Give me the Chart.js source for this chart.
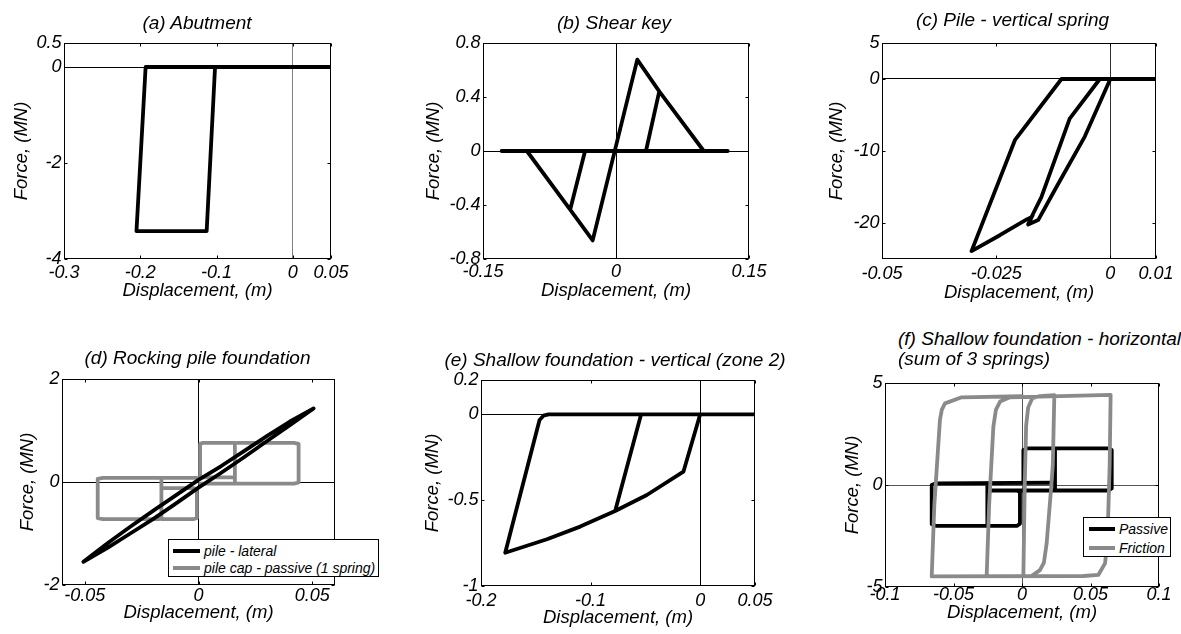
<!DOCTYPE html>
<html><head><meta charset="utf-8">
<script src="https://cdn.jsdelivr.net/npm/chart.js@4.4.1/dist/chart.umd.min.js"></script>
<style>
html,body{margin:0;padding:0;background:#fff;width:1181px;height:634px;overflow:hidden;font-family:"Liberation Sans",Arial,sans-serif;}
.c{position:absolute;}
.t{position:absolute;font-style:italic;font-size:19px;line-height:22px;white-space:nowrap;color:#000;}
.lg{position:absolute;background:#fff;border:1px solid #000;box-sizing:border-box;font-style:italic;font-size:14px;color:#000;}
.row{position:absolute;left:0;right:0;height:18px;line-height:18px;white-space:nowrap;}
.sw{position:absolute;height:4px;top:7px;}
.lt{position:absolute;top:0;}
</style></head><body>
<script>
const FONT = '"Liberation Sans", Arial, sans-serif';
const BLACK = '#000000', GRAY = '#8a8a8a';

// ---------- (a) Abutment ----------
const abutX = [0.05, -0.193, -0.205, -0.113, -0.102, 0.05];
const abutY = [0, 0, -3.42, -3.42, 0, 0];
const aXTicks = [-0.3, -0.2, -0.1, 0, 0.05];
const aYTicks = [-4, -2, 0, 0.5];

// ---------- (b) Shear key ----------
const keyX = [-0.129, -0.1005, -0.0517, -0.0349, -0.0517, -0.0263, 0.024, 0.0488, 0.0338, 0.0488, 0.099, 0.126, -0.129];
const keyY = [0, 0, -0.435, 0, -0.435, -0.662, 0.677, 0.442, 0, 0.442, 0, 0, 0];
const bXTicks = [-0.15, 0, 0.15];
const bYTicks = [-0.8, -0.4, 0, 0.4, 0.8];

// ---------- (c) Pile - vertical spring ----------
const pileVX = [0.01, -0.0107, -0.0209, -0.0304, -0.0242, -0.0213, -0.0183, -0.0173, -0.0151, -0.0089, -0.0023, 0, -0.0056, -0.0118, -0.0158, -0.0180, -0.0170];
const pileVY = [0, 0, -8.5, -23.9, -21.7, -20.6, -19.5, -19.2, -16.4, -5.5, 0, 0, -8.0, -15.0, -19.6, -20.2, -18.9];
const cXTicks = [-0.05, -0.025, 0, 0.01];
const cYTicks = [-20, -10, 0, 5];

// ---------- (d) Rocking pile foundation ----------
const pileLatX = [-0.0506, -0.04, -0.03, -0.02, -0.01, 0, 0.01, 0.02, 0.03, 0.04, 0.0506, 0.04, 0.03, 0.02, 0.01, 0, -0.01, -0.02, -0.03, -0.04, -0.0506];
const pileLatY = [-1.55, -1.28, -1.00, -0.72, -0.42, -0.11, 0.18, 0.48, 0.79, 1.10, 1.43, 1.17, 0.89, 0.60, 0.31, 0.04, -0.26, -0.56, -0.87, -1.19, -1.55];
const pileCapX = [0.0007, 0.042, 0.044, 0.044, 0.042, 0.017, 0.016, 0.016, null,
                  0.016, 0.002, 0.0007, 0.0007, 0.002, 0.015, 0.016, null,
                  -0.0007, -0.042, -0.0443, -0.0443, -0.042, -0.0173, -0.0163, -0.0163, null,
                  -0.0163, -0.002, -0.0007, -0.0007, -0.002, -0.0153, -0.0163];
const pileCapY = [-0.03, -0.03, -0.01, 0.74, 0.76, 0.76, 0.74, -0.03, null,
                  0.76, 0.76, 0.74, 0.11, 0.09, 0.09, 0.11, null,
                  0.08, 0.08, 0.06, -0.70, -0.72, -0.72, -0.70, 0.08, null,
                  -0.72, -0.72, -0.70, -0.14, -0.12, -0.12, -0.10];
const dXTicks = [-0.05, 0, 0.05];
const dYTicks = [-2, 0, 2];
const dLegend = ['pile - lateral', 'pile cap - passive (1 spring)'];

// ---------- (e) Shallow foundation - vertical ----------
const shVX = [0.05, 0, -0.0153, -0.0487, -0.0776, -0.0539, -0.0776, -0.1095, -0.1398, -0.1779, -0.1466, -0.1430, -0.1384, 0.05];
const shVY = [0, 0, -0.334, -0.47, -0.563, 0, -0.563, -0.654, -0.728, -0.806, -0.033, -0.008, 0, 0];
const eXTicks = [-0.2, -0.1, 0, 0.05];
const eYTicks = [-1, -0.5, 0, 0.2];

// ---------- (f) Shallow foundation - horizontal ----------
const passiveX = [0.0241, 0.0241, 0.0215, -0.063, -0.0659, -0.0659, -0.063, -0.0035, -0.0015, -0.0015, -0.0035, 0.063, 0.0655, 0.0655, 0.063, 0.004, 0.001, 0.001, null,
                  0.0241, 0.0241, null,
                  -0.0253, -0.0253, -0.0253, -0.0225, -0.0035];
const passiveY = [1.80, 0.15, 0.11, 0.08, 0.0, -1.92, -2.0, -2.0, -1.9, -0.35, -0.27, -0.27, -0.17, 1.72, 1.80, 1.80, 1.72, 0.12, null,
                  0.15, -0.27, null,
                  0.08, -2.0, -0.35, -0.27, -0.27];
const frictionX = [0.0010, 0.0020, 0.0030, 0.0045, 0.0075, 0.0130, 0.0236, 0.0225, 0.0212, 0.0180, 0.0160, 0.0131, 0.0071, -0.0258, -0.0240, -0.0209, -0.0190, -0.0160, -0.0088, 0.0647, 0.0640, 0.0623, 0.0606, 0.0557, 0.0450, -0.0659, -0.0640, -0.0599, -0.0585, -0.0562, -0.0440, 0.0];
const frictionY = [-4.45, 0, 2.9, 3.8, 4.25, 4.36, 4.40, 1.0, -0.2, -2.86, -3.8, -4.17, -4.45, -4.48, -1.0, 2.86, 3.7, 4.09, 4.30, 4.42, 1.0, -2.86, -3.84, -4.41, -4.46, -4.48, -1.0, 3.19, 3.7, 4.0, 4.30, 4.35];
const fXTicks = [-0.1, -0.05, 0, 0.05, 0.1];
const fYTicks = [-5, 0, 5];
const fLegend = ['Passive', 'Friction'];

const titles = [
  {text: '(a) Abutment', cx: 197, top: 11.5},
  {text: '(b) Shear key', cx: 614, top: 11.5},
  {text: '(c) Pile - vertical spring', cx: 1012.5, top: 9},
  {text: '(d) Rocking pile foundation', cx: 197.5, top: 347},
  {text: '(e) Shallow foundation - vertical (zone 2)', cx: 615, top: 348.6},
  {text: '(f) Shallow foundation - horizontal', left: 898, top: 327.8},
  {text: '(sum of 3 springs)', left: 898, top: 347.8}
];

const boxPlugin = {
  id: 'boxPlugin',
  afterDraw(chart) {
    const ctx = chart.ctx, a = chart.chartArea, xs = chart.scales.x, ys = chart.scales.y;
    ctx.save();
    ctx.strokeStyle = '#000'; ctx.lineWidth = 1;
    const L = Math.round(a.left) + 0.5, R = Math.round(a.right) - 0.5, T = Math.round(a.top) + 0.5, B = Math.round(a.bottom) - 0.5;
    ctx.strokeRect(L, T, R - L, B - T);
    ctx.beginPath();
    xs.ticks.forEach(t => { const p = Math.round(xs.getPixelForValue(t.value)) + 0.5; ctx.moveTo(p, B); ctx.lineTo(p, B - 3); ctx.moveTo(p, T); ctx.lineTo(p, T + 3); });
    ys.ticks.forEach(t => { const p = Math.round(ys.getPixelForValue(t.value)) + 0.5; ctx.moveTo(L, p); ctx.lineTo(L + 3, p); ctx.moveTo(R, p); ctx.lineTo(R - 3, p); });
    ctx.stroke();
    ctx.restore();
  }
};

function makeChart(cfg) {
  const PL = 60, PT = 15, PR = 32, HX = 50;
  const b = cfg.box;
  const W = PL + (b.r - b.l) + PR, H = PT + (b.b - b.t) + HX;
  const div = document.createElement('div'); div.className = 'c';
  div.style.left = (b.l - PL) + 'px'; div.style.top = (b.t - PT) + 'px';
  const cv = document.createElement('canvas'); cv.width = W; cv.height = H;
  cv.style.width = W + 'px'; cv.style.height = H + 'px';
  div.appendChild(cv); document.body.appendChild(div);
  const tickFont = {family: FONT, size: 18, style: 'italic'};
  const titleFont = {family: FONT, size: 18.5, style: 'italic'};
  new Chart(cv, {
    type: 'scatter',
    data: {datasets: cfg.series.map(s => ({
      data: s.x.map((v, i) => ({x: v, y: s.y[i]})),
      showLine: true, borderColor: s.color, backgroundColor: s.color, borderWidth: s.w || 3.8,
      pointRadius: 0, pointHoverRadius: 0, tension: 0, spanGaps: false,
      borderJoinStyle: 'round', borderCapStyle: 'round', fill: false
    }))},
    options: {
      responsive: false, animation: false, devicePixelRatio: 1, events: [],
      layout: {padding: {left: 0, top: PT, right: PR, bottom: 0}},
      plugins: {legend: {display: false}, title: {display: false}, tooltip: {enabled: false}},
      scales: {
        x: {
          type: 'linear', position: 'bottom', min: cfg.xMin, max: cfg.xMax,
          afterBuildTicks: sc => { sc.ticks = cfg.xTicks.map(v => ({value: v})); },
          afterFit: sc => { sc.height = HX; },
          ticks: {autoSkip: false, maxRotation: 0, minRotation: 0, padding: cfg.xTickPad, color: '#000', font: tickFont, callback: v => String(v)},
          grid: {drawTicks: false, lineWidth: 1, color: c => (c.tick && c.tick.value === 0) ? cfg.zeroV : 'rgba(0,0,0,0)'},
          border: {display: false},
          title: {display: true, text: 'Displacement, (m)', color: '#000', font: titleFont, padding: {top: 0, bottom: cfg.xTitlePad}}
        },
        y: {
          type: 'linear', position: 'left', min: cfg.yMin, max: cfg.yMax,
          afterBuildTicks: sc => { sc.ticks = cfg.yTicks.map(v => ({value: v})); },
          afterFit: sc => { sc.width = PL; },
          ticks: {autoSkip: false, padding: 2.5, color: '#000', font: tickFont, callback: v => String(v)},
          grid: {drawTicks: false, lineWidth: 1, color: c => (c.tick && c.tick.value === 0) ? cfg.zeroH : 'rgba(0,0,0,0)'},
          border: {display: false},
          title: {display: true, text: 'Force, (MN)', color: '#000', font: titleFont, padding: {top: cfg.yTitlePad, bottom: 0}}
        }
      }
    },
    plugins: [boxPlugin]
  });
}

makeChart({box: {l: 64, r: 331, t: 43, b: 259}, xMin: -0.3, xMax: 0.05, yMin: -4, yMax: 0.5, xTicks: aXTicks, yTicks: aYTicks,
  xTickPad: 2.7, xTitlePad: 6.9, yTitlePad: 6.6, zeroV: '#808080', zeroH: '#000',
  series: [{x: abutX, y: abutY, color: BLACK}]});
makeChart({box: {l: 483, r: 749, t: 43, b: 259}, xMin: -0.15, xMax: 0.15, yMin: -0.8, yMax: 0.8, xTicks: bXTicks, yTicks: bYTicks,
  xTickPad: 1.9, xTitlePad: 6.9, yTitlePad: 0.2, zeroV: '#000', zeroH: '#000',
  series: [{x: keyX, y: keyY, color: BLACK}]});
makeChart({box: {l: 882, r: 1156, t: 43, b: 259}, xMin: -0.05, xMax: 0.01, yMin: -25, yMax: 5, xTicks: cXTicks, yTicks: cYTicks,
  xTickPad: 4.5, xTitlePad: 4.9, yTitlePad: 4.1, zeroV: '#333', zeroH: '#000',
  series: [{x: pileVX, y: pileVY, color: BLACK}]});
makeChart({box: {l: 62, r: 335, t: 379, b: 585}, xMin: -0.06, xMax: 0.06, yMin: -2, yMax: 2, xTicks: dXTicks, yTicks: dYTicks,
  xTickPad: 0.2, xTitlePad: 11.4, yTitlePad: 14.9, zeroV: '#000', zeroH: '#000',
  series: [{x: pileLatX, y: pileLatY, color: BLACK}, {x: pileCapX, y: pileCapY, color: GRAY}]});
makeChart({box: {l: 481, r: 755, t: 380, b: 586}, xMin: -0.2, xMax: 0.05, yMin: -1, yMax: 0.2, xTicks: eXTicks, yTicks: eYTicks,
  xTickPad: 4.2, xTitlePad: 6.9, yTitlePad: 0.7, zeroV: '#000', zeroH: '#000',
  series: [{x: shVX, y: shVY, color: BLACK}]});
makeChart({box: {l: 885, r: 1159, t: 383, b: 587}, xMin: -0.1, xMax: 0.1, yMin: -5, yMax: 5, xTicks: fXTicks, yTicks: fYTicks,
  xTickPad: -2.8, xTitlePad: 13.2, yTitlePad: 16.4, zeroV: '#555', zeroH: '#555',
  series: [{x: frictionX, y: frictionY, color: GRAY}, {x: passiveX, y: passiveY, color: BLACK}]});

// titles
titles.forEach(t => {
  const d = document.createElement('div'); d.className = 't'; d.textContent = t.text;
  d.style.top = t.top + 'px';
  if (t.cx !== undefined) { d.style.left = t.cx + 'px'; d.style.transform = 'translateX(-50%)'; }
  else { d.style.left = t.left + 'px'; }
  document.body.appendChild(d);
});

// legends
function makeLegend(box, labels, colors, rowTops, swL, swW, txtL) {
  const lg = document.createElement('div'); lg.className = 'lg';
  lg.style.left = box.l + 'px'; lg.style.top = box.t + 'px';
  lg.style.width = (box.r - box.l) + 'px'; lg.style.height = (box.b - box.t) + 'px';
  labels.forEach((txt, i) => {
    const row = document.createElement('div'); row.className = 'row'; row.style.top = rowTops[i] + 'px';
    const sw = document.createElement('div'); sw.className = 'sw'; sw.style.left = swL + 'px'; sw.style.width = swW + 'px'; sw.style.background = colors[i];
    const lt = document.createElement('div'); lt.className = 'lt'; lt.style.left = txtL + 'px'; lt.textContent = txt;
    row.appendChild(sw); row.appendChild(lt); lg.appendChild(row);
  });
  document.body.appendChild(lg);
}
makeLegend({l: 168, t: 539, r: 379, b: 577}, dLegend, [BLACK, GRAY], [1.5, 19], 4, 27, 35);
makeLegend({l: 1083, t: 517, r: 1171, b: 557}, fLegend, [BLACK, GRAY], [2, 20.5], 5, 26, 35);
</script>
</body></html>
